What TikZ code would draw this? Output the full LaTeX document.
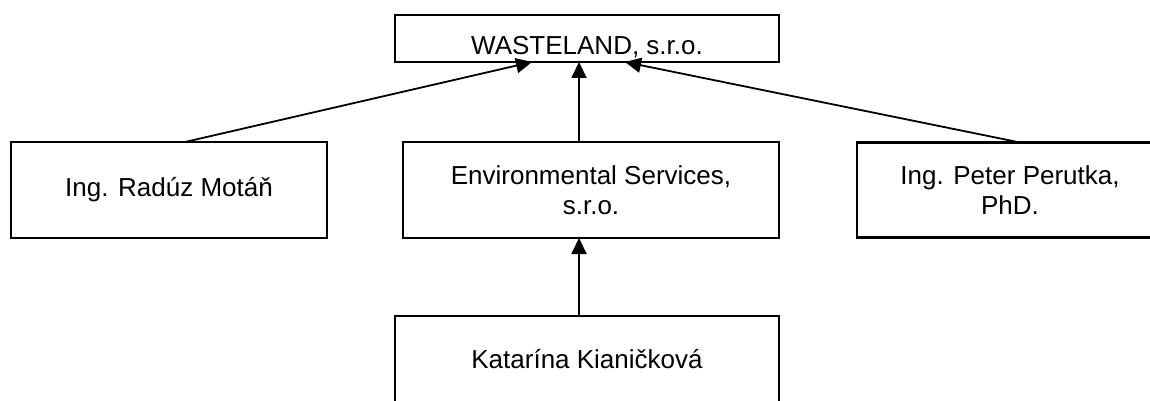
\documentclass[tikz,border=0pt]{standalone}
\usepackage{fontspec}
\setmainfont{Liberation Sans}
\usetikzlibrary{arrows.meta}
\begin{document}
\begin{tikzpicture}[x=1pt,y=-1pt,
  box/.style={draw=black,line width=2.3pt,rectangle,inner sep=0pt,outer sep=0pt,
    align=center,font=\fontsize{26}{30}\selectfont},
  link/.style={line width=1.8pt,-{Triangle[length=16pt,width=15pt]}}]
\useasboundingbox[fill=white] (0,0) rectangle (1150,401);
\node[box,minimum width=384pt,minimum height=47pt,text height=33pt,text depth=0pt] (top) at (587,38.5) {WASTELAND, s.r.o.};
\node[box,minimum width=316pt,minimum height=96pt] (left) at (169,190) {Ing. Radúz Motáň};
\node[box,minimum width=376pt,minimum height=96pt] (mid) at (591,190) {Environmental Services,\\s.r.o.};
\node[box,minimum width=306pt,minimum height=95pt] (right) at (1010,190) {Ing. Peter Perutka,\\PhD.};
\node[box,minimum width=384pt,minimum height=96pt,text height=20pt,text depth=12pt] (bottom) at (587,364) {Katarína Kianičková};
\draw[link] ([xshift=16pt]left.north) -- ([xshift=-55pt]top.south);
\draw[link] ([xshift=-12pt]mid.north) -- ([xshift=-8pt]top.south);
\draw[link] ([xshift=10pt]right.north) -- ([xshift=38pt]top.south);
\draw[link] ([xshift=-8pt]bottom.north) -- ([xshift=-12pt]mid.south);
\end{tikzpicture}
\end{document}
